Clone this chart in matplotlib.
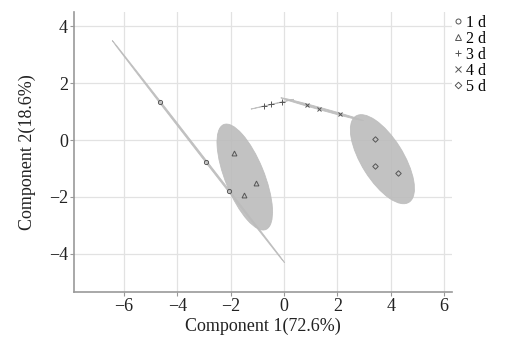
import numpy as np
import matplotlib
matplotlib.use("Agg")
from matplotlib import pyplot as plt
from matplotlib.patches import Ellipse

# PCA scores
groups = ["1 d", "2 d", "3 d", "4 d", "5 d"]
x1d = [-4.65, -2.92, -2.06]
y1d = [1.34, -0.78, -1.78]
x2d = [-1.89, -1.04, -1.49]
y2d = [-0.46, -1.50, -1.94]
x3d = [-0.74, -0.49, -0.09]
y3d = [1.19, 1.25, 1.33]
x4d = [0.86, 1.31, 2.11]
y4d = [1.24, 1.09, 0.91]
x5d = [3.40, 3.40, 4.25]
y5d = [0.05, -0.91, -1.16]

xs = [x1d, x2d, x3d, x4d, x5d]
ys = [y1d, y2d, y3d, y4d, y5d]
markers = ["o", "^", "+", "x", "D"]
sizes = [3, 3.5, 4, 3.5, 2.8]

plt.rcParams['font.family'] = ['Liberation Serif', 'DejaVu Serif']
plt.rcParams['axes.unicode_minus'] = True


def conf_ellipse(x, y, ax, chi2=5.991):
    x = np.asarray(x)
    y = np.asarray(y)
    cov = np.cov(x, y)
    vals, vecs = np.linalg.eigh(cov)
    order = vals.argsort()[::-1]
    vals = vals[order]
    vecs = vecs[:, order]
    angle = np.degrees(np.arctan2(vecs[1, 0], vecs[0, 0]))
    w = 2 * np.sqrt(chi2 * max(vals[0], 0))
    h = 2 * np.sqrt(chi2 * max(vals[1], 0))
    e = Ellipse((x.mean(), y.mean()), w, h, angle=angle,
                facecolor="#bcbcbc", edgecolor="#bcbcbc", linewidth=0.6,
                alpha=0.9, zorder=1)
    ax.add_patch(e)


fig = plt.figure(figsize=(5.07, 3.45), dpi=100)
ax = fig.add_axes([0.146, 0.154, 0.746, 0.811])

for i in range(len(groups)):
    conf_ellipse(xs[i], ys[i], ax)

for i in range(len(groups)):
    if markers[i] in ["+", "x"]:
        ax.plot(xs[i], ys[i], linestyle="none", marker=markers[i],
                markersize=sizes[i], color="#555555", markeredgewidth=0.7,
                label=groups[i], zorder=3)
    else:
        ax.plot(xs[i], ys[i], linestyle="none", marker=markers[i],
                markersize=sizes[i], markerfacecolor="none",
                markeredgecolor="#555555", markeredgewidth=0.7,
                label=groups[i], zorder=3)

ax.set_xlim(-7.87, 6.3)
ax.set_ylim(-5.33, 4.49)
ax.set_xticks([-6, -4, -2, 0, 2, 4, 6])
ax.set_yticks([-4, -2, 0, 2, 4])
ax.grid(True, color="#e2e2e2", linewidth=0.9)
ax.set_axisbelow(True)

for s in ["top", "right"]:
    ax.spines[s].set_visible(False)
for s in ["left", "bottom"]:
    ax.spines[s].set_color("#999999")
    ax.spines[s].set_linewidth(1.2)
ax.tick_params(axis="both", colors="#999999", labelcolor="#222222",
               labelsize=13, length=3, width=0.8, pad=1.5)

ax.set_xlabel("Component 1(72.6%)", fontsize=13, color="#222222", labelpad=2)
ax.set_ylabel("Component 2(18.6%)", fontsize=13, color="#222222", labelpad=9)

leg = ax.legend(loc="upper left", bbox_to_anchor=(0.98, 1.025), frameon=False,
                fontsize=11.5, handlelength=0.5, handletextpad=0.25,
                labelspacing=0.0, borderaxespad=0.2, markerscale=1.2)

fig.savefig("out.png", dpi=100)
